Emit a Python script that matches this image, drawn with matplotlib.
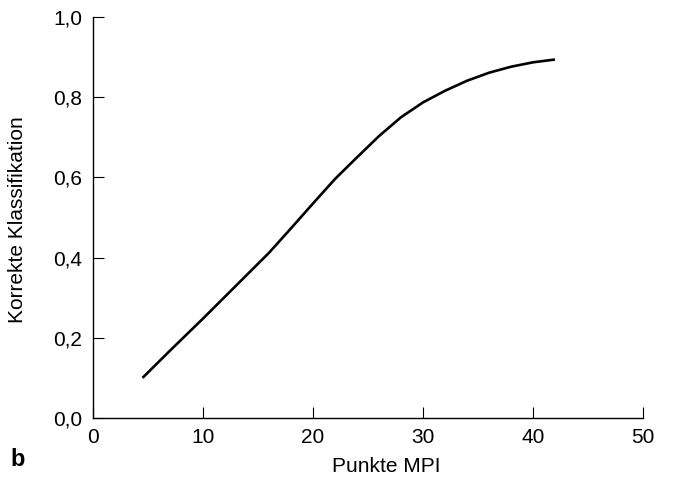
import matplotlib
matplotlib.use("Agg")
import matplotlib.pyplot as plt

plt.rcParams['font.family'] = ['Liberation Sans', 'DejaVu Sans']

# MPI score vs. rate of correct classification
punkte_mpi = [4.5, 7, 10, 13, 16, 18, 20, 22, 24, 26, 28, 30, 32, 34, 36, 38, 40, 42]
korrekt = [0.100, 0.168, 0.248, 0.330, 0.412, 0.473, 0.535, 0.596, 0.650,
           0.703, 0.750, 0.787, 0.816, 0.841, 0.861, 0.876, 0.887, 0.894]

x_ticks = [0, 10, 20, 30, 40, 50]
y_ticks = [0.0, 0.2, 0.4, 0.6, 0.8, 1.0]
y_tick_labels = ["0,0", "0,2", "0,4", "0,6", "0,8", "1,0"]

W, H = 678, 483
fig = plt.figure(figsize=(W / 100, H / 100), dpi=100)
left, right, top, bottom = 93, 643, 17, 418
ax = fig.add_axes([left / W, 1 - bottom / H, (right - left) / W, (bottom - top) / H])

ax.plot(punkte_mpi, korrekt, color='black', lw=1.9, solid_capstyle='butt',
        solid_joinstyle='round')

ax.set_xlim(0, 50)
ax.set_ylim(0, 1.0)
ax.set_xticks(x_ticks)
ax.set_xticklabels([str(v) for v in x_ticks])
ax.set_yticks(y_ticks)
ax.set_yticklabels(y_tick_labels)

for side in ('top', 'right'):
    ax.spines[side].set_visible(False)
for side in ('left', 'bottom'):
    ax.spines[side].set_linewidth(1.0)
    ax.spines[side].set_color('black')

ax.tick_params(axis='both', direction='in', length=8, width=0.8,
               labelsize=15, colors='black')
ax.tick_params(axis='x', pad=7)
ax.tick_params(axis='y', pad=8)

fig.text(386 / W, 1 - 466 / H, "Punkte MPI", fontsize=15,
         ha='center', va='center')
fig.text(18 / W, 1 - 220 / H, "Korrekte Klassifikation", fontsize=15,
         rotation=90, ha='center', va='center')
fig.text(18 / W, 1 - 459 / H, "b", fontsize=17, fontweight='bold',
         ha='center', va='center')

fig.savefig("out.png", dpi=100)
